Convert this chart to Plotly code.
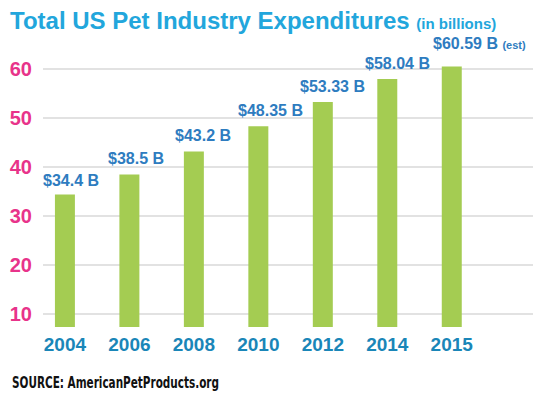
import plotly.graph_objects as go

years = ["2004", "2006", "2008", "2010", "2012", "2014", "2015"]
values = [34.4, 38.5, 43.2, 48.35, 53.33, 58.04, 60.59]
labels = ["$34.4 B", "$38.5 B", "$43.2 B", "$48.35 B", "$53.33 B", "$58.04 B",
          "$60.59 B <span style='font-size:11px'>(est)</span>"]
y_ticks = [10, 20, 30, 40, 50, 60]

# label nudges (styling only)
label_dx = [6, 7, 9, 12, 10, 10, 28]
label_dy = [4, 5, 5, 5, 5, 5, 12]

# page has an 8px body margin; work in page pixels and convert
OFF = 8
W, H = 550 - 2 * OFF, 399 - 2 * OFF
PL, PR, PT, PB = 43, 533, 40, 327          # plot area in page pixels
L, R, T, B = PL - OFF, W - (PR - OFF), PT - OFF, H - (PB - OFF)
PW, PH = W - L - R, H - T - B


def px_to_paper(px, py):
    return (px - OFF - L) / PW, 1 - (py - OFF - T) / PH


fig = go.Figure(go.Bar(
    x=years, y=values,
    marker=dict(color="#a4cc52", line=dict(width=0)),
    width=0.31, hoverinfo="x+y",
))

annotations = []
for i, (v, lab, dx, dy) in enumerate(zip(values, labels, label_dx, label_dy)):
    annotations.append(dict(
        x=i, y=v, xref="x", yref="y", text=f"<b>{lab}</b>", showarrow=False,
        xanchor="center", yanchor="bottom", xshift=dx, yshift=dy,
        font=dict(family="Liberation Sans, Arial", size=16, color="#2e7cc0"),
    ))

sx, sy = px_to_paper(10, 382)
annotations.append(dict(
    text="<b>SOURCE: AmericanPetProducts.org</b>",
    x=sx, y=sy, xref="paper", yref="paper", xanchor="left", yanchor="middle",
    align="left", showarrow=False,
    font=dict(size=16, color="#111111", family="DejaVu Sans Condensed, Liberation Sans Narrow, Arial Narrow"),
))

fig.update_layout(
    width=W, height=H,
    margin=dict(l=L, r=R, t=T, b=B, autoexpand=False),
    paper_bgcolor="white", plot_bgcolor="white",
    showlegend=False,
    font=dict(family="Liberation Sans, Arial"),
    title=dict(
        text="<b>Total US Pet Industry Expenditures</b> <b><span style='font-size:15px'>(in billions)</span></b>",
        x=(10 - OFF) / W, xanchor="left", xref="container",
        y=1 - (21 - OFF) / H, yanchor="middle", yref="container",
        font=dict(size=24, color="#22a6dc"), pad=dict(t=0, b=0, l=0, r=0),
    ),
    xaxis=dict(type="category", range=[-0.34, 7.26], showgrid=False, showline=False,
               ticks="", ticklabelstandoff=4, automargin=False,
               tickfont=dict(size=19, color="#1a86b8"),
               tickmode="array", tickvals=years, ticktext=[f"<b>{y}</b>" for y in years]),
    yaxis=dict(range=[7.3, 66], tickvals=y_ticks, ticktext=[f"<b>{v}</b>" for v in y_ticks],
               showgrid=True, gridcolor="#e2e2e2", gridwidth=2, zeroline=False,
               showline=False, ticks="", ticklabelstandoff=10, automargin=False,
               tickfont=dict(size=20, color="#e8338a")),
    annotations=annotations,
)

post = """
var gd = document.getElementById('{plot_id}');
function fixSource(){
  gd.querySelectorAll('text.annotation-text').forEach(function(t){
    if (t.textContent.indexOf('SOURCE') === 0) {
      t.setAttribute('textLength', '207');
      t.setAttribute('lengthAdjust', 'spacingAndGlyphs');
    }
  });
}
fixSource();
gd.on('plotly_afterplot', fixSource);
"""

fig.write_html("out.html", post_script=post)
